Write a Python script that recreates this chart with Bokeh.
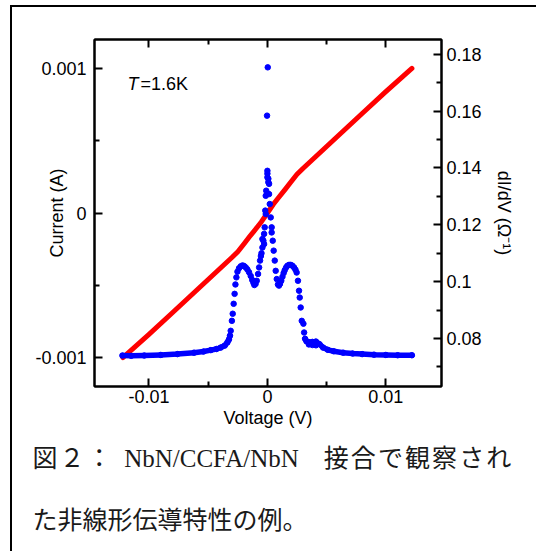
import math
from bokeh.plotting import figure
from bokeh.models import Range1d, LinearAxis, FixedTicker, Label, Title
from bokeh.embed import file_html
from bokeh.resources import INLINE

# ---------------- data ----------------
# I-V curve (red), volts / amperes
iv_voltage = [-0.0122, -0.0100, -0.0080, -0.0060, -0.0040, -0.0030, -0.0025, -0.0020,
              -0.0015, -0.0010, -0.0005, 0.0, 0.0005, 0.0010, 0.0015, 0.0020, 0.0025,
              0.0030, 0.0040, 0.0060, 0.0080, 0.0100, 0.0122]
iv_current = [-0.00100, -0.00084, -0.000688, -0.000536, -0.000384, -0.000308, -0.000268,
              -0.000216, -0.000163, -0.000112, -0.00006, 0.0, 0.00006, 0.000112, 0.000163,
              0.000216, 0.000268, 0.000308, 0.000384, 0.000536, 0.000688, 0.00084, 0.00100]

# dI/dV (blue), volts / siemens
tail_left_v = [-0.01224, -0.0115, -0.0104, -0.0090, -0.0076, -0.0062, -0.0054, -0.00478,
               -0.0043, -0.00394, -0.0036, -0.00338, -0.00325, -0.00316]
tail_left_g = [0.0740, 0.0739, 0.0740, 0.0742, 0.0745, 0.0750, 0.0754, 0.0759,
               0.0763, 0.0768, 0.0775, 0.0786, 0.0796, 0.0810]

tail_right_v = [0.00318, 0.0033, 0.0035, 0.0038, 0.0041, 0.0044, 0.0047, 0.0051, 0.0056,
                0.0064, 0.0072, 0.0080, 0.0090, 0.0100, 0.0110, 0.0122]
tail_right_g = [0.0799, 0.0790, 0.0787, 0.0788, 0.0789, 0.0780, 0.0768, 0.0760, 0.0755,
                0.0750, 0.0747, 0.0745, 0.0743, 0.0742, 0.0741, 0.0741]

core_v = [-0.00310, -0.00300, -0.00293, -0.00285, -0.00277, -0.00270, -0.00262, -0.00253,
          -0.00240, -0.00225, -0.00210, -0.00197, -0.00183, -0.00169, -0.00155, -0.00141,
          -0.00128, -0.00118, -0.00110, -0.00100, -0.00090, -0.00079, -0.00070, -0.00062,
          -0.00055, -0.00050, -0.00042, -0.00042, -0.00034, -0.00028, -0.00028, -0.00023,
          -0.00014, -0.00018, -0.00014, -0.00010, -0.00003, 0.00000, 0.00000, 0.00000,
          0.00003, 0.00008, 0.00008, 0.00014, 0.00014, 0.00020, 0.00028, 0.00036, 0.00036,
          0.00045, 0.00053, 0.00062, 0.00070, 0.00079, 0.00089, 0.00098, 0.00106, 0.00117,
          0.00127, 0.00137, 0.00146, 0.00158, 0.00169, 0.00183, 0.00197, 0.00211, 0.00225,
          0.00237, 0.00247, 0.00258, 0.00267, 0.00273, 0.00281, 0.00290, 0.00304, 0.00310,
          0.0035, 0.0038, 0.0041]
core_g = [0.0827, 0.0862, 0.0887, 0.0922, 0.0957, 0.0990, 0.1015, 0.1035,
          0.1047, 0.1054, 0.1057, 0.1055, 0.1050, 0.1043, 0.1033, 0.1020,
          0.1006, 0.0996, 0.0988, 0.0992, 0.1003, 0.1027, 0.1050, 0.1074,
          0.1090, 0.1100, 0.1120, 0.1150, 0.1144, 0.1132, 0.1168, 0.1191,
          0.1238, 0.1250, 0.1302, 0.1320, 0.1584, 0.1367, 0.1380, 0.1390,
          0.1754, 0.1362, 0.1350, 0.1344, 0.1308, 0.1273, 0.1226, 0.1191, 0.1173,
          0.1144, 0.1109, 0.1074, 0.1038, 0.1009, 0.0990, 0.0986, 0.0992, 0.1003,
          0.1017, 0.1030, 0.1040, 0.1050, 0.1056, 0.1059, 0.1059, 0.1056, 0.1050,
          0.1042, 0.1032, 0.1003, 0.0968, 0.0944, 0.0909, 0.0862, 0.0852, 0.0821,
          0.0779, 0.0777, 0.0776]

# ticks
x_ticks = [-0.01, 0.0, 0.01]
x_tick_labels = ["-0.01", "0", "0.01"]
x_minor = [-0.005, 0.005]
i_ticks = [-0.001, 0.0, 0.001]
i_tick_labels = ["-0.001", "0", "0.001"]
i_minor = [-0.0005, 0.0005]
g_ticks = [0.08, 0.10, 0.12, 0.14, 0.16, 0.18]
g_tick_labels = ["0.08", "0.1", "0.12", "0.14", "0.16", "0.18"]
g_minor = [0.07, 0.09, 0.11, 0.13, 0.15, 0.17]

x_title = "Voltage (V)"
i_title = "Current (A)"
g_title = "dI/dV (\u03a9\u207b\u00b9)"
HS = "\u200a"  # hair space (justification of the first caption line)
caption_line1 = (HS.join("図２：") + "\u2002" + "NbN/CCFA/NbN" + "\u2002\u2002"
                 + HS.join("接合で観察され"))
caption_line2 = "た非線形伝導特性の例。"

# ---------------- figure ----------------
FONT = "Liberation Sans"
p = figure(frame_width=347, frame_height=347, output_backend="svg", toolbar_location=None,
           x_range=Range1d(-0.0146, 0.0147), y_range=Range1d(-0.0012, 0.0012),
           x_axis_type=None, y_axis_type=None,
           min_border_left=82, min_border_right=95, min_border_top=32, min_border_bottom=165)
p.styles = {"margin-left": "10px", "margin-top": "5px",
            "border-left": "2px solid black", "border-top": "2px solid black"}
p.extra_y_ranges = {"g": Range1d(0.0631, 0.1852)}
p.xgrid.visible = False
p.ygrid.visible = False
p.outline_line_color = "black"
p.outline_line_width = 2
p.background_fill_color = "white"
p.border_fill_color = "white"


def style_axis(ax, ticks, minor, labels, standoff, show=True):
    ax.ticker = FixedTicker(ticks=ticks, minor_ticks=minor)
    ax.major_label_overrides = dict(zip(ticks, labels if show else [""] * len(ticks)))
    ax.axis_line_color = "black"
    ax.axis_line_width = 2
    ax.major_tick_in = 8
    ax.major_tick_out = 0
    ax.minor_tick_in = 5
    ax.minor_tick_out = 0
    ax.major_tick_line_width = 2
    ax.minor_tick_line_width = 2
    ax.major_tick_line_color = "black"
    ax.minor_tick_line_color = "black"
    ax.major_label_text_font = FONT
    ax.major_label_text_font_size = "18px"
    ax.major_label_text_color = "black"
    ax.major_label_standoff = standoff
    ax.axis_label_text_font = FONT
    ax.axis_label_text_font_size = "18px"
    ax.axis_label_text_font_style = "normal"
    ax.axis_label_text_color = "black"


bottom = LinearAxis(axis_label=x_title)
style_axis(bottom, x_ticks, x_minor, x_tick_labels, 3)
bottom.axis_label_standoff = 2
p.add_layout(bottom, "below")
top = LinearAxis()
style_axis(top, x_ticks, x_minor, x_tick_labels, 3, show=False)
p.add_layout(top, "above")
left = LinearAxis(axis_label=i_title)
style_axis(left, i_ticks, i_minor, i_tick_labels, 8)
left.axis_label_standoff = -35
p.add_layout(left, "left")
right = LinearAxis(y_range_name="g", axis_label=g_title)
style_axis(right, g_ticks, g_minor, g_tick_labels, 5)
right.axis_label_standoff = 9
p.add_layout(right, "right")

# caption below the plot
CAP_FONT = "Liberation Serif, Noto Sans CJK JP"
p.add_layout(Title(text=caption_line1, align="left", offset=-62, standoff=25,
                   text_font=CAP_FONT, text_font_size="25px", text_font_style="normal",
                   text_color="#1a1a1a"), "below")
p.add_layout(Title(text=caption_line2, align="left", offset=-62, standoff=40,
                   text_font=CAP_FONT, text_font_size="25px", text_font_style="normal",
                   text_color="#1a1a1a"), "below")

# data
p.line(iv_voltage, iv_current, line_color="#ff0000", line_width=5,
       line_cap="round", line_join="round")
for vv, gg in ((tail_left_v, tail_left_g), (tail_right_v, tail_right_g)):
    p.line(vv, gg, y_range_name="g", line_color="#0000ff", line_width=5.5,
           line_cap="round", line_join="round")
    p.scatter(vv, gg, y_range_name="g", size=5.5, color="#0000ff")
p.scatter(core_v, core_g, y_range_name="g", size=5.5, color="#0000ff")

# temperature annotation inside the frame
p.add_layout(Label(x=33, y=303, x_units="screen", y_units="screen", text="T",
                   text_font=FONT, text_font_size="18px", text_font_style="italic",
                   text_baseline="middle", text_color="black"))
p.add_layout(Label(x=46, y=303, x_units="screen", y_units="screen", text="=1.6K",
                   text_font=FONT, text_font_size="18px",
                   text_baseline="middle", text_color="black"))

open("out.html", "w").write(file_html(p, INLINE))
